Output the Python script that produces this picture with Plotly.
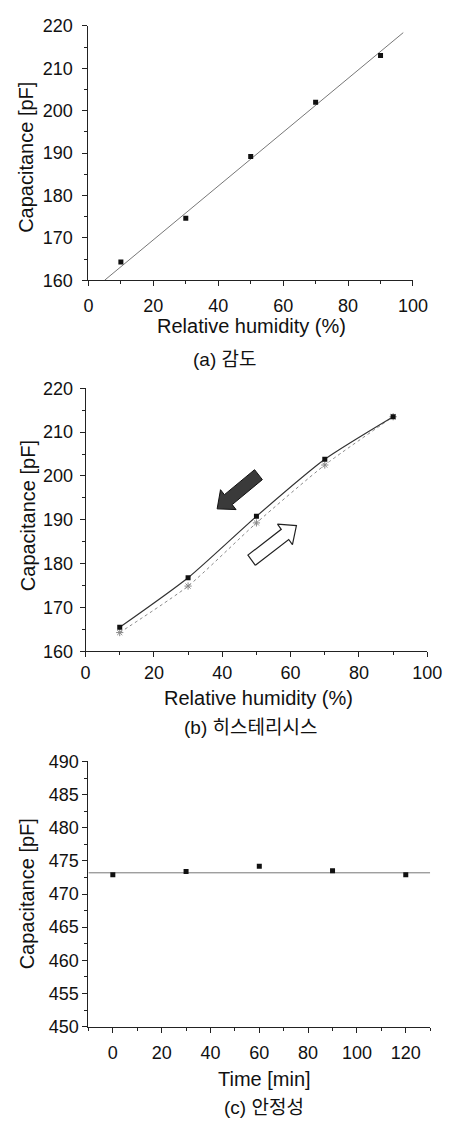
import plotly.graph_objects as go

# page is 457x1132; the browser body keeps its default 8px margin
PAGE_MARGIN = 8
W, H = 457 - 2 * PAGE_MARGIN, 1132 - 2 * PAGE_MARGIN

# ---------------- data ----------------
# Panel (a) sensitivity
rh_a = [10, 30, 50, 70, 90]
cap_a = [164.3, 174.6, 189.2, 202.0, 213.0]
fit_a_x = [5, 97]
fit_a_y = [160, 218.4]

# Panel (b) hysteresis
rh_b = [10, 30, 50, 70, 90]
cap_desorb = [165.5, 176.8, 190.8, 203.8, 213.5]
cap_adsorb = [164.3, 174.9, 189.3, 202.5, 213.5]
arrow_desorb = [(50.6, 200.3), (38.5, 192.5)]   # tail, tip (data coords)
arrow_adsorb = [(48.6, 180.8), (61.7, 188.7)]

# Panel (c) stability
time_c = [0, 30, 60, 90, 120]
cap_c = [472.9, 473.4, 474.2, 473.5, 472.9]
fit_c_x = [-10, 130]
fit_c_y = [473.2, 473.2]

# tick labels / titles
y_title = "Capacitance [pF]"
x_title_rh = "Relative humidity (%)"
x_title_t = "Time [min]"
captions = ["(a) 감도", "(b) 히스테리시스", "(c) 안정성"]

# ---------------- layout geometry (page pixels) ----------------
boxes = {  # x0, x1, y0(top), y1(bottom)
    "a": (87, 427, 16, 275),
    "b": (84, 442, 385, 653),
    "c": (87, 445, 765, 1035),
}
ranges = {
    "a": ([0, 100], [160, 220]),
    "b": ([0, 100], [160, 220]),
    "c": ([-10, 130], [450, 490]),
}

FONT = "Liberation Sans, Arial, sans-serif"
KFONT = "Liberation Sans, Noto Sans CJK KR, sans-serif"
AX = "#222"

def fx(px):
    return (px - PAGE_MARGIN) / W

def fy(py):
    return 1 - (py - PAGE_MARGIN) / H

def dom(key):
    x0, x1, y0, y1 = boxes[key]
    return [fx(x0), fx(x1)], [fy(y1), fy(y0)]

def axis_style(rng, dtick, minor_dtick, standoff):
    return dict(
        range=rng, dtick=dtick, tick0=0, showline=True, linecolor=AX, linewidth=1,
        ticks="outside", ticklen=5, tickwidth=1, tickcolor=AX,
        showgrid=False, zeroline=False, ticklabelstandoff=standoff,
        tickfont=dict(family=FONT, size=18, color="#111"),
        minor=dict(ticks="outside", ticklen=3, tickcolor=AX, dtick=minor_dtick,
                   tick0=0, showgrid=False),
    )

fig = go.Figure()

# Panel (a)
fig.add_trace(go.Scatter(x=fit_a_x, y=fit_a_y, mode="lines",
                         line=dict(color="#777", width=1), xaxis="x", yaxis="y",
                         showlegend=False))
fig.add_trace(go.Scatter(x=rh_a, y=cap_a, mode="markers",
                         marker=dict(symbol="square", size=5, color="#111"),
                         xaxis="x", yaxis="y", showlegend=False))

# Panel (b)
fig.add_trace(go.Scatter(x=rh_b, y=cap_adsorb, mode="lines+markers",
                         line=dict(color="#888", width=1, dash="dot", shape="spline",
                                   smoothing=0.6),
                         marker=dict(symbol="asterisk-open", size=6,
                                     line=dict(color="#666", width=1)),
                         xaxis="x2", yaxis="y2", showlegend=False))
fig.add_trace(go.Scatter(x=rh_b, y=cap_desorb, mode="lines+markers",
                         line=dict(color="#333", width=1.2, shape="spline", smoothing=0.6),
                         marker=dict(symbol="square", size=5, color="#111"),
                         xaxis="x2", yaxis="y2", showlegend=False))

# block arrows in panel (b)
def to_px(key, x, y):
    x0, x1, y0, y1 = boxes[key]
    (xr0, xr1), (yr0, yr1) = ranges[key]
    return (x0 + (x - xr0) / (xr1 - xr0) * (x1 - x0),
            y1 - (y - yr0) / (yr1 - yr0) * (y1 - y0))

def to_data(key, px, py):
    x0, x1, y0, y1 = boxes[key]
    (xr0, xr1), (yr0, yr1) = ranges[key]
    return (xr0 + (px - x0) / (x1 - x0) * (xr1 - xr0),
            yr0 + (y1 - py) / (y1 - y0) * (yr1 - yr0))

def block_arrow(key, tail, tip, hw=6.5, hh=13, hl=15):
    tx, ty = to_px(key, *tail)
    px, py = to_px(key, *tip)
    L = ((px - tx) ** 2 + (py - ty) ** 2) ** 0.5
    dx, dy = (px - tx) / L, (py - ty) / L
    nx, ny = -dy, dx
    bx, by = px - dx * hl, py - dy * hl
    pts = [(tx + nx * hw, ty + ny * hw), (bx + nx * hw, by + ny * hw),
           (bx + nx * hh, by + ny * hh), (px, py),
           (bx - nx * hh, by - ny * hh), (bx - nx * hw, by - ny * hw),
           (tx - nx * hw, ty - ny * hw), (tx + nx * hw, ty + ny * hw)]
    d = [to_data(key, a, b) for a, b in pts]
    return [p[0] for p in d], [p[1] for p in d]

ax_, ay_ = block_arrow("b", *arrow_desorb)
fig.add_trace(go.Scatter(x=ax_, y=ay_, mode="lines", fill="toself",
                         fillcolor="#3a3a3a", line=dict(color="#111", width=1),
                         xaxis="x2", yaxis="y2", showlegend=False, hoverinfo="skip"))
bx_, by_ = block_arrow("b", *arrow_adsorb)
fig.add_trace(go.Scatter(x=bx_, y=by_, mode="lines", fill="toself",
                         fillcolor="white", line=dict(color="#222", width=1.2),
                         xaxis="x2", yaxis="y2", showlegend=False, hoverinfo="skip"))

# Panel (c)
fig.add_trace(go.Scatter(x=fit_c_x, y=fit_c_y, mode="lines",
                         line=dict(color="#777", width=1), xaxis="x3", yaxis="y3",
                         showlegend=False))
fig.add_trace(go.Scatter(x=time_c, y=cap_c, mode="markers",
                         marker=dict(symbol="square", size=5, color="#111"),
                         xaxis="x3", yaxis="y3", showlegend=False))

# axes
xa, ya = dom("a")
xb, yb = dom("b")
xc, yc = dom("c")
layout = dict(
    width=W, height=H, autosize=False, margin=dict(l=0, r=0, t=0, b=0),
    paper_bgcolor="white", plot_bgcolor="white",
    xaxis=dict(domain=xa, anchor="y", **axis_style(ranges["a"][0], 20, 10, 4)),
    yaxis=dict(domain=ya, anchor="x", **axis_style(ranges["a"][1], 10, 5, 6)),
    xaxis2=dict(domain=xb, anchor="y2", **axis_style(ranges["b"][0], 20, 10, 0)),
    yaxis2=dict(domain=yb, anchor="x2", **axis_style(ranges["b"][1], 10, 5, 3)),
    xaxis3=dict(domain=xc, anchor="y3", **axis_style(ranges["c"][0], 20, 10, 5)),
    yaxis3=dict(domain=yc, anchor="x3", **axis_style(ranges["c"][1], 5, 2.5, 0)),
)
fig.update_layout(**layout)

def ann(text, xpx, ypx, size, angle=0, family=FONT):
    fig.add_annotation(text=text, x=fx(xpx), y=fy(ypx), xref="paper", yref="paper",
                       showarrow=False, textangle=angle, xanchor="center",
                       yanchor="middle", font=dict(family=family, size=size, color="#111"))

# axis titles and captions (page pixel positions)
ann(y_title, 22, 150, 20, -90)
ann(x_title_rh, 258, 322, 20)
ann(captions[0], 230, 356, 19, family=KFONT)

ann(y_title, 24, 515, 20, -90)
ann(x_title_rh, 265, 700, 20)
ann(captions[1], 257, 730, 19, family=KFONT)

ann(y_title, 23, 900, 20, -90)
ann(x_title_t, 271, 1088, 20)
ann(captions[2], 271, 1117, 19, family=KFONT)

fig.write_html("out.html", config={"responsive": False, "displayModeBar": False})
